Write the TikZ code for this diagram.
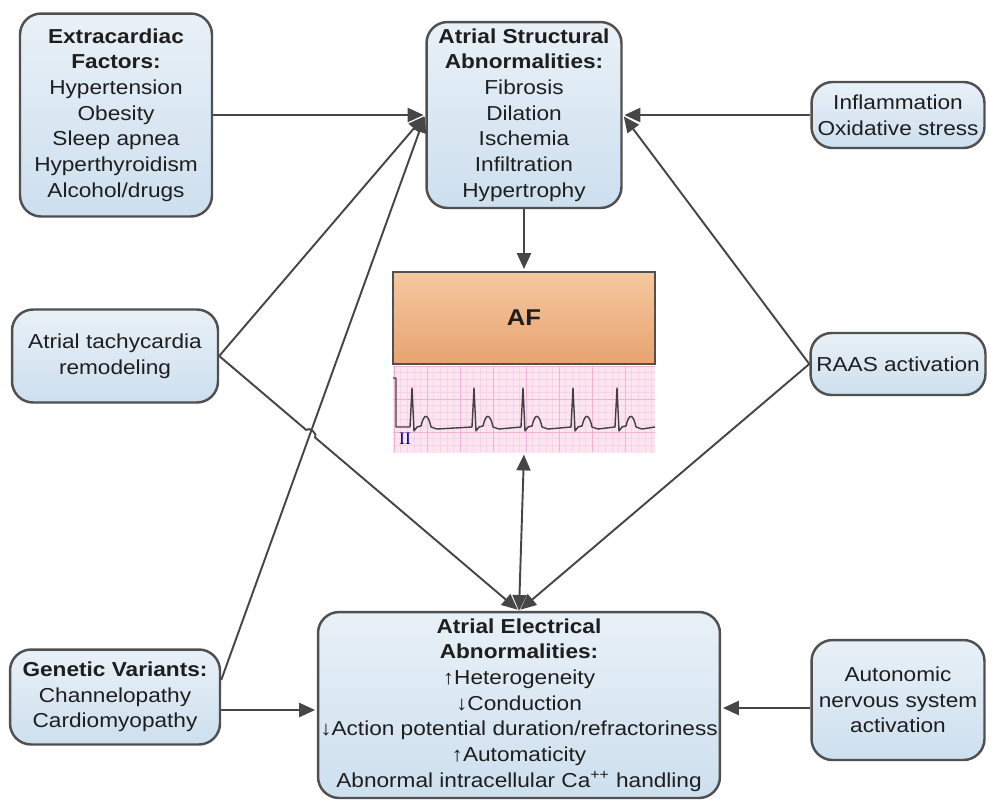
\documentclass[tikz,border=0pt]{standalone}
\usepackage{fontspec}
\setmainfont{Liberation Sans}[FakeStretch=1.12]
\newfontfamily\leadfont{Liberation Serif}
\usetikzlibrary{arrows.meta,calc}

\definecolor{boxfill}{RGB}{205,223,238}
\definecolor{boxline}{RGB}{80,80,80}
\definecolor{aftop}{RGB}{245,200,160}
\definecolor{afbottom}{RGB}{232,163,112}
\definecolor{ecgpink}{RGB}{252,228,240}
\definecolor{gridpink}{RGB}{236,160,200}
\definecolor{linkgray}{RGB}{70,70,70}
\definecolor{textdark}{RGB}{30,30,30}

\begin{document}
\begin{tikzpicture}[x=0.02cm, y=-0.02cm, >={Triangle[length=9pt,width=8pt]},
  box/.style={rectangle, rounded corners=12pt, draw=boxline, line width=1.4pt,
    top color=boxfill!45!white, bottom color=boxfill, align=center, inner sep=1pt,
    text=textdark, font=\fontsize{11.5}{14.6}\selectfont},
  link/.style={->, shorten >=1pt, draw=linkgray, line width=1.1pt},
  gridline/.style={-, draw=gridpink, line width=0.25pt}]

\useasboundingbox (0,0) rectangle (997,802);

% factor boxes
\node[box, minimum width=3.84cm, minimum height=4.06cm] (extra) at (116,115)
  {\textbf{Extracardiac}\\ \textbf{Factors:}\\ Hypertension\\ Obesity\\ Sleep apnea\\ Hyperthyroidism\\ Alcohol/drugs};
\node[box, minimum width=3.9cm, minimum height=3.72cm] (struct) at (524,115)
  {\textbf{Atrial Structural}\\ \textbf{Abnormalities:}\\ Fibrosis\\ Dilation\\ Ischemia\\ Infiltration\\ Hypertrophy};
\node[box, minimum width=3.46cm, minimum height=1.32cm] (inflam) at (898,115)
  {Inflammation\\ Oxidative stress};
\node[box, minimum width=4.12cm, minimum height=1.86cm] (tachy) at (115,356)
  {Atrial tachycardia\\ remodeling};
\node[box, minimum width=3.5cm, minimum height=1.24cm] (raas) at (898,364)
  {RAAS activation};
\node[box, minimum width=4.2cm, minimum height=1.9cm] (genetic) at (115,697)
  {\textbf{Genetic Variants:}\\ Channelopathy\\ Cardiomyopathy};
\node[box, minimum width=8.04cm, minimum height=3.72cm] (elec) at (519,705)
  {\textbf{Atrial Electrical}\\ \textbf{Abnormalities:}\\ ↑Heterogeneity\\ ↓Conduction\\
   ↓Action potential duration/refractoriness\\ ↑Automaticity\\ Abnormal intracellular Ca\textsuperscript{++} handling};
\node[box, minimum width=3.46cm, minimum height=2.4cm] (auto) at (898,700)
  {Autonomic\\ nervous system\\ activation};

% AF box and ECG strip
\node[rectangle, draw=boxline, line width=1.4pt, top color=aftop, bottom color=afbottom,
  minimum width=5.24cm, minimum height=1.84cm, font=\fontsize{13}{15}\selectfont\bfseries,
  text=textdark] (af) at (524,318) {AF};
\node[rectangle, fill=ecgpink, minimum width=5.24cm, minimum height=1.74cm, inner sep=0pt] (ecg) at (524,409) {};
\foreach \i in {0,...,39}
  \draw[gridline, draw=gridpink!45] (394+\i*6.6,366) -- (394+\i*6.6,452);
\foreach \j in {0,...,12}
  \draw[gridline, draw=gridpink!45] (393,366+\j*6.6) -- (655,366+\j*6.6);
\foreach \i in {0,...,7}
  \draw[gridline, draw=gridpink!80] (394+\i*33,366) -- (394+\i*33,452);
\foreach \j in {0,...,2}
  \draw[gridline, draw=gridpink!80] (393,366+\j*33) -- (655,366+\j*33);
\draw[-, draw=black!75, line width=0.8pt, line join=round]
  (393,378) -- (396,378) -- (396,427) -- (408,427)
  \foreach \p in {412,474,523,573,617} {
    -- (\p-2,427) -- (\p,388) -- (\p+2,431) -- (\p+5,427) -- (\p+9,426)
    .. controls (\p+12,413) and (\p+16,413) .. (\p+19,427) -- (\p+25,429) }
  -- (655,427);
\node[text=blue!55!black, font=\leadfont\fontsize{10}{10}\selectfont] (lead) at (405,439) {II};

% connectors
\draw[link] (extra.east) -- (struct.west);
\draw[link] (inflam.west) -- (struct.east);
\draw[link] (struct.south) -- (af.north);
\draw[link] (tachy.east) -- (struct.west);
\draw[link] (raas.west) -- (struct.east);
\draw[link] (raas.west) -- (elec.north);
\draw[link] ($(genetic.east)+(0,-17)$) -- (struct.west);
\draw[link] (tachy.east) -- ($(tachy.east)!0.29!(elec.north)$)
  to[bend left=90] ($(tachy.east)!0.32!(elec.north)$) -- (elec.north);
\draw[link, <->] (elec.north) -- (ecg.south);
\draw[link] ($(genetic.east)+(0,13)$) coordinate (g2) -- (g2 -| elec.west);
\draw[link] ($(auto.west)+(0,8)$) coordinate (a2) -- (a2 -| elec.east);

\end{tikzpicture}
\end{document}
